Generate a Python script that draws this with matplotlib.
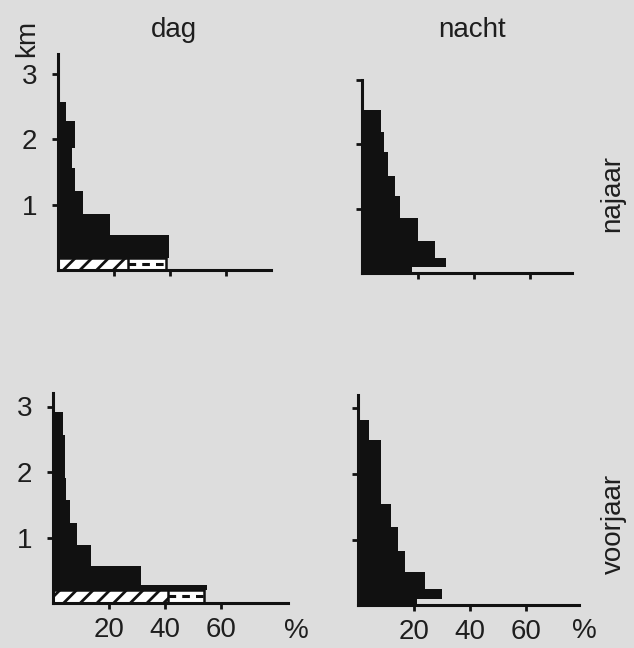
import matplotlib.pyplot as plt

# altitude bin edges (km) and share of birds (%) per bin
tl_edges = [0.18, 0.54, 0.86, 1.2, 1.56, 1.87, 2.27, 2.57]
tl_pct = [39.5, 18.4, 8.8, 6.0, 5.0, 6.0, 2.8]
tl_hatch = [25.0, 38.5]  # hatched part, then dashed box, lowest layer

tr_edges = [0.0, 0.1, 0.24, 0.5, 0.86, 1.2, 1.51, 1.88, 2.19, 2.53]
tr_pct = [18.0, 30.0, 26.0, 20.0, 13.7, 11.7, 9.3, 7.7, 6.8]

bl_edges = [0.2, 0.28, 0.57, 0.88, 1.22, 1.58, 1.91, 2.56, 2.92]
bl_pct = [55.0, 31.4, 13.4, 8.6, 6.2, 4.8, 4.2, 3.4]
bl_hatch = [41.0, 54.0]

br_edges = [0.0, 0.09, 0.25, 0.5, 0.83, 1.19, 1.54, 2.52, 2.83]
br_pct = [21.0, 30.0, 23.8, 16.8, 14.4, 11.8, 8.2, 3.9]

hatch_top = {'tl': 0.18, 'bl': 0.2}

xticks = [20, 40, 60]
yticks = [1, 2, 3]

W, H = 634, 648
PX_PCT = 2.8
PX_KM = 65.5
BG = '#dddddd'
INK = '#111111'
FS = 20

plt.rcParams['font.family'] = ['Liberation Sans', 'DejaVu Sans']
plt.rcParams['hatch.linewidth'] = 2.0

fig = plt.figure(figsize=(W / 100, H / 100), dpi=100, facecolor=BG)

# panel: origin pixel, x max (%), y max (km)
panels = {
    'tl': (58, 270, 76, 3.3),
    'tr': (362, 273, 75, 2.95),
    'bl': (53, 603, 84, 3.2),
    'br': (358, 605, 79, 3.2),
}
data = {
    'tl': (tl_edges, tl_pct, tl_hatch),
    'tr': (tr_edges, tr_pct, None),
    'bl': (bl_edges, bl_pct, bl_hatch),
    'br': (br_edges, br_pct, None),
}

for key, (x0, y0, xmax, ymax) in panels.items():
    ax = fig.add_axes([x0 / W, 1 - y0 / H, xmax * PX_PCT / W, ymax * PX_KM / H])
    ax.set_facecolor('none')
    edges, pct, hatch = data[key]
    heights = [b - a for a, b in zip(edges[:-1], edges[1:])]
    ax.barh(edges[:-1], pct, height=heights, align='edge', color=INK,
            edgecolor=INK, linewidth=0)
    if hatch:
        top = hatch_top[key]
        ax.barh(0, hatch[1], height=top, align='edge', color='white',
                edgecolor=INK, linewidth=1.8)
        ax.hlines(top / 2, hatch[0], hatch[1], color=INK, linewidth=2.2,
                  linestyle=(0, (2.5, 2)))
        ax.barh(0, hatch[0], height=top, align='edge', color='white',
                edgecolor=INK, linewidth=1.8, hatch='//')
    ax.set_xlim(0, xmax)
    ax.set_ylim(0, ymax)
    for s in ['top', 'right']:
        ax.spines[s].set_visible(False)
    for s in ['left', 'bottom']:
        ax.spines[s].set_linewidth(2.2)
        ax.spines[s].set_color(INK)
    ax.set_xticks(xticks)
    ax.set_yticks(yticks)
    ax.tick_params(length=4, width=2, color=INK, labelsize=FS, labelcolor='#1e1e1e')
    ax.tick_params(axis='y', pad=11)
    ax.tick_params(axis='x', pad=6)
    if key in ('tr', 'br'):
        ax.set_yticklabels([])
    if key in ('tl', 'tr'):
        ax.set_xticklabels([])

txt = dict(fontsize=FS, color='#1e1e1e', ha='center', va='center')
fig.text(174 / W, 1 - 30 / H, 'dag', **txt)
fig.text(472 / W, 1 - 30 / H, 'nacht', **txt)
fig.text(27 / W, 1 - 38 / H, 'km', rotation=90, **txt)
fig.text(612 / W, 1 - 194 / H, 'najaar', rotation=90, **txt)
fig.text(614 / W, 1 - 524 / H, 'voorjaar', rotation=90, **txt)
fig.text(296 / W, 1 - 631 / H, '%', **txt)
fig.text(584 / W, 1 - 631 / H, '%', **txt)

fig.savefig('out.png', dpi=100, facecolor=BG)
